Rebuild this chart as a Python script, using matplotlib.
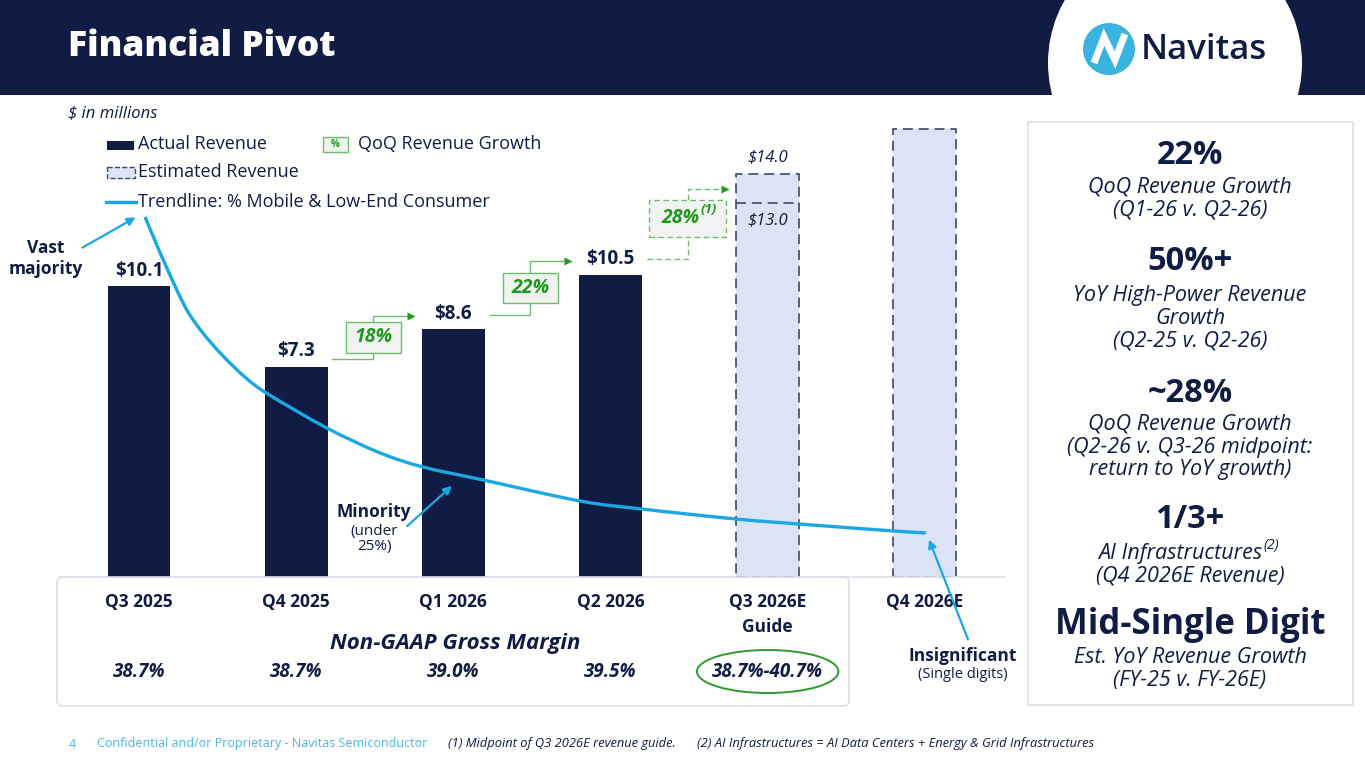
import matplotlib
matplotlib.use("Agg")
import matplotlib.pyplot as plt
from matplotlib import transforms
from matplotlib.path import Path
from matplotlib.patches import Rectangle, Circle, Ellipse, FancyBboxPatch, PathPatch

plt.rcParams['font.family'] = ['Open Sans', 'DejaVu Sans']

NAVY = '#111c44'
BLUE = '#1ba7e1'
GREEN = '#1f9a1f'
GREEN_EDGE = '#6dbd6d'
EST_FILL = '#dce3f7'
EST_EDGE = '#3e4662'
LIGHT = '#dcdfe8'

# ---- data ($ in millions) ----
quarters = ["Q3 2025", "Q4 2025", "Q1 2026", "Q2 2026", "Q3 2026E\nGuide", "Q4 2026E"]
actual_revenue = [10.1, 7.3, 8.6, 10.5]
actual_labels = ["$10.1", "$7.3", "$8.6", "$10.5"]
estimated_revenue = [14.0, 15.55]      # Q3 guide top, Q4 estimate (no label)
guide_low = 13.0
guide_labels = ["$14.0", "$13.0"]
qoq_growth = ["18%", "22%", "28%"]
gross_margin = ["38.7%", "38.7%", "39.0%", "39.5%", "38.7%-40.7%"]

# trendline (% mobile & low-end consumer), read in chart units
trend_x = [0.038, 0.102, 0.165, 0.293, 0.401, 0.528, 0.674, 0.821, 1.196, 1.533, 1.807,
           2.188, 2.805, 3.200, 3.804, 4.198, 4.796, 5.006]
trend_y = [12.50, 11.67, 10.87, 9.38, 8.51, 7.71, 6.94, 6.35, 5.17, 4.31, 3.82,
           3.37, 2.64, 2.36, 2.01, 1.84, 1.60, 1.53]

panel_heads = ["22%", "50%+", "~28%", "1/3+", "Mid-Single Digit"]
panel_subs = [
    "QoQ Revenue Growth\n(Q1-26 v. Q2-26)",
    "YoY High-Power Revenue\nGrowth\n(Q2-25 v. Q2-26)",
    "QoQ Revenue Growth\n(Q2-26 v. Q3-26 midpoint:\nreturn to YoY growth)",
    None,
    "Est. YoY Revenue Growth\n(FY-25 v. FY-26E)",
]


def smooth_path(xs, ys):
    # Catmull-Rom through the read points, drawn as cubic Bezier segments
    pts = list(zip(xs, ys))
    verts = [pts[0]]
    codes = [Path.MOVETO]
    for i in range(len(pts) - 1):
        p0 = pts[i - 1] if i > 0 else pts[i]
        p1, p2 = pts[i], pts[i + 1]
        p3 = pts[i + 2] if i + 2 < len(pts) else pts[i + 1]
        c1 = (p1[0] + (p2[0] - p0[0]) / 6, p1[1] + (p2[1] - p0[1]) / 6)
        c2 = (p2[0] - (p3[0] - p1[0]) / 6, p2[1] - (p3[1] - p1[1]) / 6)
        verts += [c1, c2, p2]
        codes += [Path.CURVE4] * 3
    return Path(verts, codes)


W, H = 1365, 768
fig = plt.figure(figsize=(W / 100, H / 100), dpi=100)

bg = fig.add_axes([0, 0, 1, 1], zorder=0)
bg.set_xlim(0, W)
bg.set_ylim(H, 0)
bg.axis('off')

ax = fig.add_axes([60 / W, (H - 577) / H, 945 / W, 477 / H], zorder=1)
ax.set_facecolor('none')
ax.set_xlim(-0.503, 5.51)
ax.set_ylim(0, 16.56)
for s in ['top', 'right', 'left']:
    ax.spines[s].set_visible(False)
ax.spines['bottom'].set_color(LIGHT)
ax.spines['bottom'].set_linewidth(1.2)
ax.set_xticks([])
ax.set_yticks([])

ov = fig.add_axes([0, 0, 1, 1], zorder=2)
ov.set_xlim(0, W)
ov.set_ylim(H, 0)
ov.axis('off')

# x from chart data, y in slide pixels
ytr = transforms.blended_transform_factory(ax.transData, ov.transData)

# ---- header ----
banner = Rectangle((0, 0), W, 95, facecolor=NAVY, edgecolor='none')
bg.add_patch(banner)
logo_bg = Circle((1175, 63), 127, facecolor='white', edgecolor='none')
bg.add_patch(logo_bg)
logo_bg.set_clip_path(banner)
bg.text(68, 47, "Financial Pivot", color='white', fontsize=25.5, fontweight='heavy', va='center', ha='left')
bg.add_patch(Circle((1109, 49), 26, facecolor='#3ab3e0', edgecolor='none'))
bg.plot([1094, 1104, 1115, 1125], [63, 37, 60, 34], color='white', lw=5, solid_capstyle='butt',
        solid_joinstyle='miter')
bg.text(1141, 50, "Navitas", color=NAVY, fontsize=25, fontweight='semibold', va='center', ha='left')

bg.text(68, 113, "$ in millions", fontsize=12, style='italic', color=NAVY, va='center')

# ---- legend ----
ov.add_patch(Rectangle((107, 141), 27, 9, facecolor=NAVY, edgecolor='none'))
ov.text(138, 144, "Actual Revenue", fontsize=13, color=NAVY, va='center')
ov.add_patch(Rectangle((323, 137), 25, 15, facecolor='#eef3ee', edgecolor=GREEN_EDGE, lw=1))
ov.text(335.5, 144.5, "%", fontsize=7, color=GREEN, fontweight='bold', ha='center', va='center')
ov.text(358, 144, "QoQ Revenue Growth", fontsize=13, color=NAVY, va='center')
ov.add_patch(Rectangle((107, 167), 28, 11, facecolor=EST_FILL, edgecolor=EST_EDGE, lw=1, ls='--'))
ov.text(138, 172, "Estimated Revenue", fontsize=13, color=NAVY, va='center')
ov.plot([106, 136], [202, 202], color=BLUE, lw=2.5)
ov.text(138, 202, "Trendline: % Mobile & Low-End Consumer", fontsize=13, color=NAVY, va='center')

# ---- bars ----
xa = list(range(len(actual_revenue)))
xe = [len(actual_revenue) + i for i in range(len(estimated_revenue))]
bw = 0.4
ax.bar(xa, actual_revenue, width=bw, color=NAVY, zorder=2)
ax.bar(xe, estimated_revenue, width=bw, facecolor=EST_FILL, edgecolor=EST_EDGE,
       linewidth=1.2, linestyle=(0, (6, 3.5)), zorder=2)
ax.plot([xe[0] - bw / 2, xe[0] + bw / 2], [guide_low, guide_low], color=EST_EDGE, lw=1.2,
        ls=(0, (6, 3.5)), zorder=3)

for x, v, lbl in zip(xa, actual_revenue, actual_labels):
    ax.annotate(lbl, (x, v), xytext=(0, 4), textcoords='offset points', ha='center', va='bottom',
                fontsize=13.5, fontweight='bold', color=NAVY)
ax.annotate(guide_labels[0], (xe[0], estimated_revenue[0]), xytext=(0, 6), textcoords='offset points',
            ha='center', va='bottom', fontsize=12, style='italic', color=NAVY)
ax.annotate(guide_labels[1], (xe[0], guide_low), xytext=(0, -7), textcoords='offset points',
            ha='center', va='top', fontsize=12, style='italic', color=NAVY)

# ---- QoQ growth steps ----
path_vals = actual_revenue + [guide_low]
lo_off = [0.27, 0.5, 0.54]
for k, label in enumerate(qoq_growth):
    i = k + 1
    dashed = (k == len(qoq_growth) - 1)
    ls = (0, (4, 2.5)) if dashed else '-'
    y_lo = path_vals[i] + lo_off[k]
    y_hi = path_vals[i + 1] + 0.47
    vx = i + 0.49
    mid = (y_lo + y_hi) / 2 + (0.2 if dashed else 0)
    hh = 0.64 if dashed else 0.53
    gw = 0.49 if dashed else 0.35
    tip = i + 1 - bw / 2 - 0.07
    ax.plot([i + bw / 2 + 0.03, vx, vx], [y_lo, y_lo, mid - hh], color=GREEN_EDGE, lw=1, ls=ls, zorder=3)
    ax.plot([vx, vx, tip - 0.02], [mid + hh, y_hi, y_hi], color=GREEN_EDGE, lw=1, ls=ls, zorder=3)
    ax.plot([tip], [y_hi], marker='>', ms=6, color=GREEN, mec='none', zorder=3)
    ax.add_patch(Rectangle((vx - gw / 2, mid - hh), gw, 2 * hh, facecolor='#f1f3f1',
                           edgecolor=GREEN_EDGE, lw=1, ls=ls, zorder=3))
    if dashed:
        ax.text(vx + 0.075, mid, label, ha='right', va='center', fontsize=14,
                fontweight='bold', style='italic', color=GREEN, zorder=4)
        ax.text(vx + 0.085, mid + 0.3, "(1)", ha='left', va='center', fontsize=9.5,
                fontweight='bold', style='italic', color=GREEN, zorder=4)
    else:
        ax.text(vx, mid, label, ha='center', va='center', fontsize=14,
                fontweight='bold', style='italic', color=GREEN, zorder=4)

# ---- trendline ----
ax.add_patch(PathPatch(smooth_path(trend_x, trend_y), facecolor='none', edgecolor=BLUE,
                       lw=2.4, zorder=5, capstyle='butt'))

# ---- gross margin box ----
bg.add_patch(FancyBboxPatch((57, 577), 792, 129, boxstyle='round,pad=0,rounding_size=6',
                            facecolor='white', edgecolor=LIGHT, lw=1.2))
for i, q in enumerate(quarters):
    ax.text(i, 593, q, transform=ytr, ha='center', va='top', fontsize=12.5, fontweight='bold',
            color=NAVY, linespacing=1.5)
ax.text(2.01, 644, "Non-GAAP Gross Margin", transform=ytr, ha='center', va='center', fontsize=16,
        fontweight='bold', style='italic', color=NAVY)
for i, gm in enumerate(gross_margin):
    ax.text(i, 672, gm, transform=ytr, ha='center', va='center', fontsize=13.5,
            fontweight='bold', style='italic', color=NAVY)
ax.add_patch(Ellipse((len(gross_margin) - 1, 671.5), 0.9, 43, transform=ytr, facecolor='none',
                     edgecolor='#2e9a2e', lw=1.4, clip_on=False))

# ---- call-outs ----
ov.text(46, 258.5, "Vast\nmajority", ha='center', va='center', fontsize=12.5, fontweight='bold',
        color=NAVY, linespacing=1.15)
ov.annotate('', xy=(138, 216), xytext=(80, 249),
            arrowprops=dict(arrowstyle='-|>', color=BLUE, lw=1.6, mutation_scale=12))
ov.text(374, 512, "Minority", ha='center', va='center', fontsize=12.5, fontweight='bold', color=NAVY)
ov.text(374, 539, "(under\n25%)", ha='center', va='center', fontsize=11, color=NAVY, linespacing=1.05)
ov.annotate('', xy=(454, 484), xytext=(405, 528),
            arrowprops=dict(arrowstyle='-|>', color=BLUE, lw=1.6, mutation_scale=12))
ov.text(963, 656, "Insignificant", ha='center', va='center', fontsize=12.5, fontweight='bold', color=NAVY)
ov.text(963, 675, "(Single digits)", ha='center', va='center', fontsize=10.5, color=NAVY)
ov.annotate('', xy=(928, 537), xytext=(969, 642),
            arrowprops=dict(arrowstyle='-|>', color=BLUE, lw=1.6, mutation_scale=12))

# ---- right panel ----
bg.add_patch(Rectangle((1028, 122), 325, 583, facecolor='white', edgecolor=LIGHT, lw=1.2, zorder=3))
head_y = [155, 261, 393, 520, 625]
sub_y = [198.5, 318, 447, None, 669]
cx = 1190
for hd, sb, hy, sy in zip(panel_heads, panel_subs, head_y, sub_y):
    ov.text(cx, hy, hd, ha='center', va='center', fontsize=25 if len(hd) > 6 else 23.5,
            fontweight='bold', color=NAVY)
    if sb:
        ov.text(cx, sy, sb, ha='center', va='center', fontsize=15.5, style='italic', color=NAVY,
                linespacing=1.12)
ov.text(1262, 553, "AI Infrastructures", ha='right', va='center', fontsize=15.5, style='italic', color=NAVY)
ov.text(1263, 546, "(2)", ha='left', va='center', fontsize=10, style='italic', color=NAVY)
ov.text(cx, 576, "(Q4 2026E Revenue)", ha='center', va='center', fontsize=15.5, style='italic', color=NAVY)

# ---- footer ----
ov.text(69, 744, "4", fontsize=9, color='#4cb5e3', va='center')
ov.text(97, 744, "Confidential and/or Proprietary - Navitas Semiconductor", fontsize=9,
        color='#4cb5e3', va='center')
ov.text(448, 744, "(1) Midpoint of Q3 2026E revenue guide.", fontsize=9.3, style='italic',
        color=NAVY, va='center')
ov.text(697, 744, "(2) AI Infrastructures = AI Data Centers + Energy & Grid Infrastructures",
        fontsize=9.3, style='italic', color=NAVY, va='center')

fig.savefig("out.png", dpi=100)
